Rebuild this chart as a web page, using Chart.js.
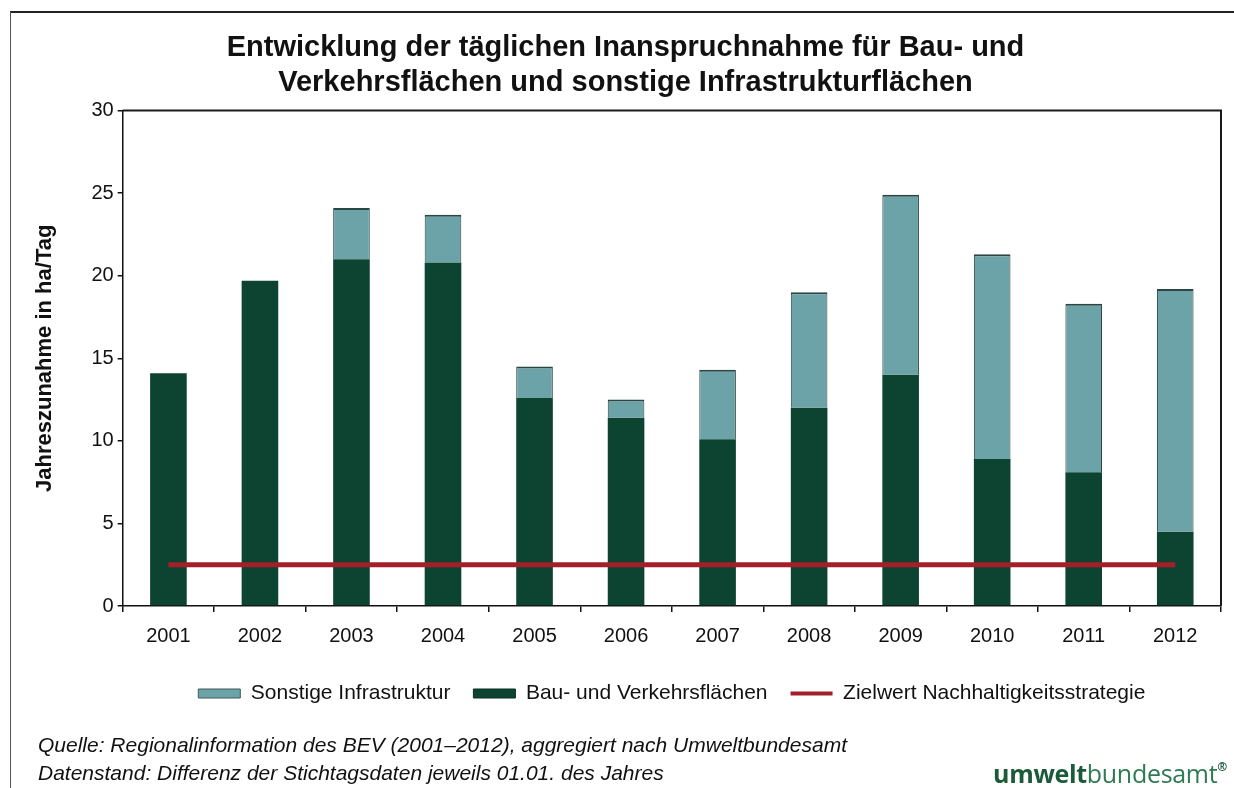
<!DOCTYPE html>
<html>
<head>
<meta charset="utf-8">
<script src="https://cdn.jsdelivr.net/npm/chart.js@4.4.1/dist/chart.umd.min.js"></script>
<style>
  html, body { margin: 0; padding: 0; background: #fff; }
  body { width: 1234px; height: 788px; position: relative; overflow: hidden; font-family: "Liberation Sans", Arial, sans-serif; }
  #frame { position: absolute; left: 10px; top: 11px; width: 1230px; height: 790px; border-top: 2px solid #222; border-left: 1px solid #555; }
  #wrap { position: absolute; left: 0; top: 0; width: 1234px; height: 788px; }
  .src { position: absolute; left: 38px; font-style: italic; font-size: 21px; line-height: 24px; color: #111; white-space: nowrap; }
  #logo { position: absolute; left: 993px; top: 756px; font-size: 25px; white-space: nowrap; font-family: "Open Sans", "Liberation Sans", sans-serif; letter-spacing: -0.3px; }
  #logo b { color: #1b5a3b; font-weight: 700; }
  #logo span { color: #2f7a52; }
  #logo sup { font-size: 12px; color: #1b5a3b; font-weight: 700; vertical-align: 12px; }
</style>
</head>
<body>
<div id="frame"></div>
<div id="wrap"><canvas id="c" width="1234" height="788"></canvas></div>
<div class="src" style="top:733px">Quelle: Regionalinformation des BEV (2001–2012), aggregiert nach Umweltbundesamt</div>
<div class="src" style="top:761px">Datenstand: Differenz der Stichtagsdaten jeweils 01.01. des Jahres</div>
<div id="logo"><b>umwelt</b><span>bundesamt</span><sup>®</sup></div>
<script>
const years = ['2001','2002','2003','2004','2005','2006','2007','2008','2009','2010','2011','2012'];
const bauVerkehr = [14.1, 19.7, 21.0, 20.8, 12.6, 11.4, 10.1, 12.0, 14.0, 8.9, 8.1, 4.5];
const sonstige   = [0, 0, 3.1, 2.9, 1.9, 1.1, 4.2, 7.0, 10.9, 12.4, 10.2, 14.7];
const zielwert   = [2.5, 2.5, 2.5, 2.5, 2.5, 2.5, 2.5, 2.5, 2.5, 2.5, 2.5, 2.5];
const yTicks = [0, 5, 10, 15, 20, 25, 30];

const FONT = '"Liberation Sans", Arial, sans-serif';

const plotBox = {
  id: 'plotBox',
  afterDraw(chart) {
    const {ctx, chartArea: a} = chart;
    ctx.save();
    ctx.strokeStyle = '#1a1a1a';
    ctx.lineWidth = 2;
    ctx.beginPath();
    ctx.moveTo(a.left, a.top);
    ctx.lineTo(a.right, a.top);
    ctx.lineTo(a.right, a.bottom);
    ctx.stroke();
    ctx.restore();
  }
};

new Chart(document.getElementById('c'), {
  data: {
    labels: years,
    datasets: [
      {
        type: 'line', label: 'Zielwert Nachhaltigkeitsstrategie', data: zielwert,
        borderColor: '#a3202b', backgroundColor: '#a3202b', borderWidth: 5,
        pointRadius: 0, order: 0, stack: 'ziel', pointStyle: 'line'
      },
      {
        type: 'bar', label: 'Bau- und Verkehrsflächen', data: bauVerkehr,
        backgroundColor: '#0c4431', borderColor: '#0a2e22', borderWidth: 0,
        order: 1, stack: 'flaeche', pointStyle: 'rect',
        barPercentage: 0.4, categoryPercentage: 1.0
      },
      {
        type: 'bar', label: 'Sonstige Infrastruktur', data: sonstige,
        backgroundColor: '#6ba3a8', borderColor: '#2b4543',
        borderWidth: {top: 2, left: 1, right: 1, bottom: 0},
        order: 2, stack: 'flaeche', pointStyle: 'rect',
        barPercentage: 0.4, categoryPercentage: 1.0
      }
    ]
  },
  options: {
    responsive: false,
    animation: false,
    layout: { padding: { left: 30, right: 13, top: 12, bottom: 74 } },
    plugins: {
      tooltip: { enabled: false },
      title: {
        display: true,
        text: ['Entwicklung der täglichen Inanspruchnahme für Bau- und', 'Verkehrsflächen und sonstige Infrastrukturflächen'],
        color: '#111',
        font: { family: FONT, size: 29, weight: 'bold', lineHeight: 1.2 },
        padding: { top: 19, bottom: 10 }
      },
      legend: {
        position: 'bottom',
        fullSize: false,
        labels: {
          color: '#111',
          font: { family: FONT, size: 21, lineHeight: 1.0 },
          usePointStyle: true,
          pointStyleWidth: 42,
          boxHeight: 9,
          boxWidth: 42,
          padding: 23,
          sort: (a, b) => {
            const rank = {'Sonstige Infrastruktur': 0, 'Bau- und Verkehrsflächen': 1, 'Zielwert Nachhaltigkeitsstrategie': 2};
            return rank[a.text] - rank[b.text];
          },
          generateLabels(chart) {
            const items = Chart.defaults.plugins.legend.labels.generateLabels(chart);
            items.forEach(it => {
              if (it.text.startsWith('Zielwert')) { it.lineWidth = 4; it.strokeStyle = '#a3202b'; }
              else if (it.text.startsWith('Sonstige')) { it.lineWidth = 1; it.strokeStyle = '#3c5a58'; }
              else { it.lineWidth = 1; it.strokeStyle = '#0a2e22'; }
            });
            return items;
          }
        }
      }
    },
    scales: {
      x: {
        stacked: true,
        offset: true,
        border: { display: true, color: '#111', width: 1.5 },
        grid: { display: true, drawOnChartArea: false, drawTicks: true, tickLength: 6, color: '#111', lineWidth: 1.5, offset: true },
        ticks: { color: '#111', font: { family: FONT, size: 20, lineHeight: 1.0 }, padding: 14, maxRotation: 0 }
      },
      y: {
        stacked: true,
        min: 0, max: 30,
        afterBuildTicks(scale) { scale.ticks = yTicks.map(v => ({ value: v })); },
        border: { display: true, color: '#111', width: 1.5 },
        grid: { display: true, drawOnChartArea: false, drawTicks: true, tickLength: 5, color: '#111', lineWidth: 1.5 },
        ticks: { color: '#111', font: { family: FONT, size: 20 }, padding: 4 },
        title: {
          display: true, text: 'Jahreszunahme in ha/Tag', color: '#111',
          font: { family: FONT, size: 22, weight: 'bold', lineHeight: 1.2 },
          padding: { top: 2, bottom: 29 }
        }
      }
    }
  },
  plugins: [plotBox]
});
</script>
</body>
</html>
